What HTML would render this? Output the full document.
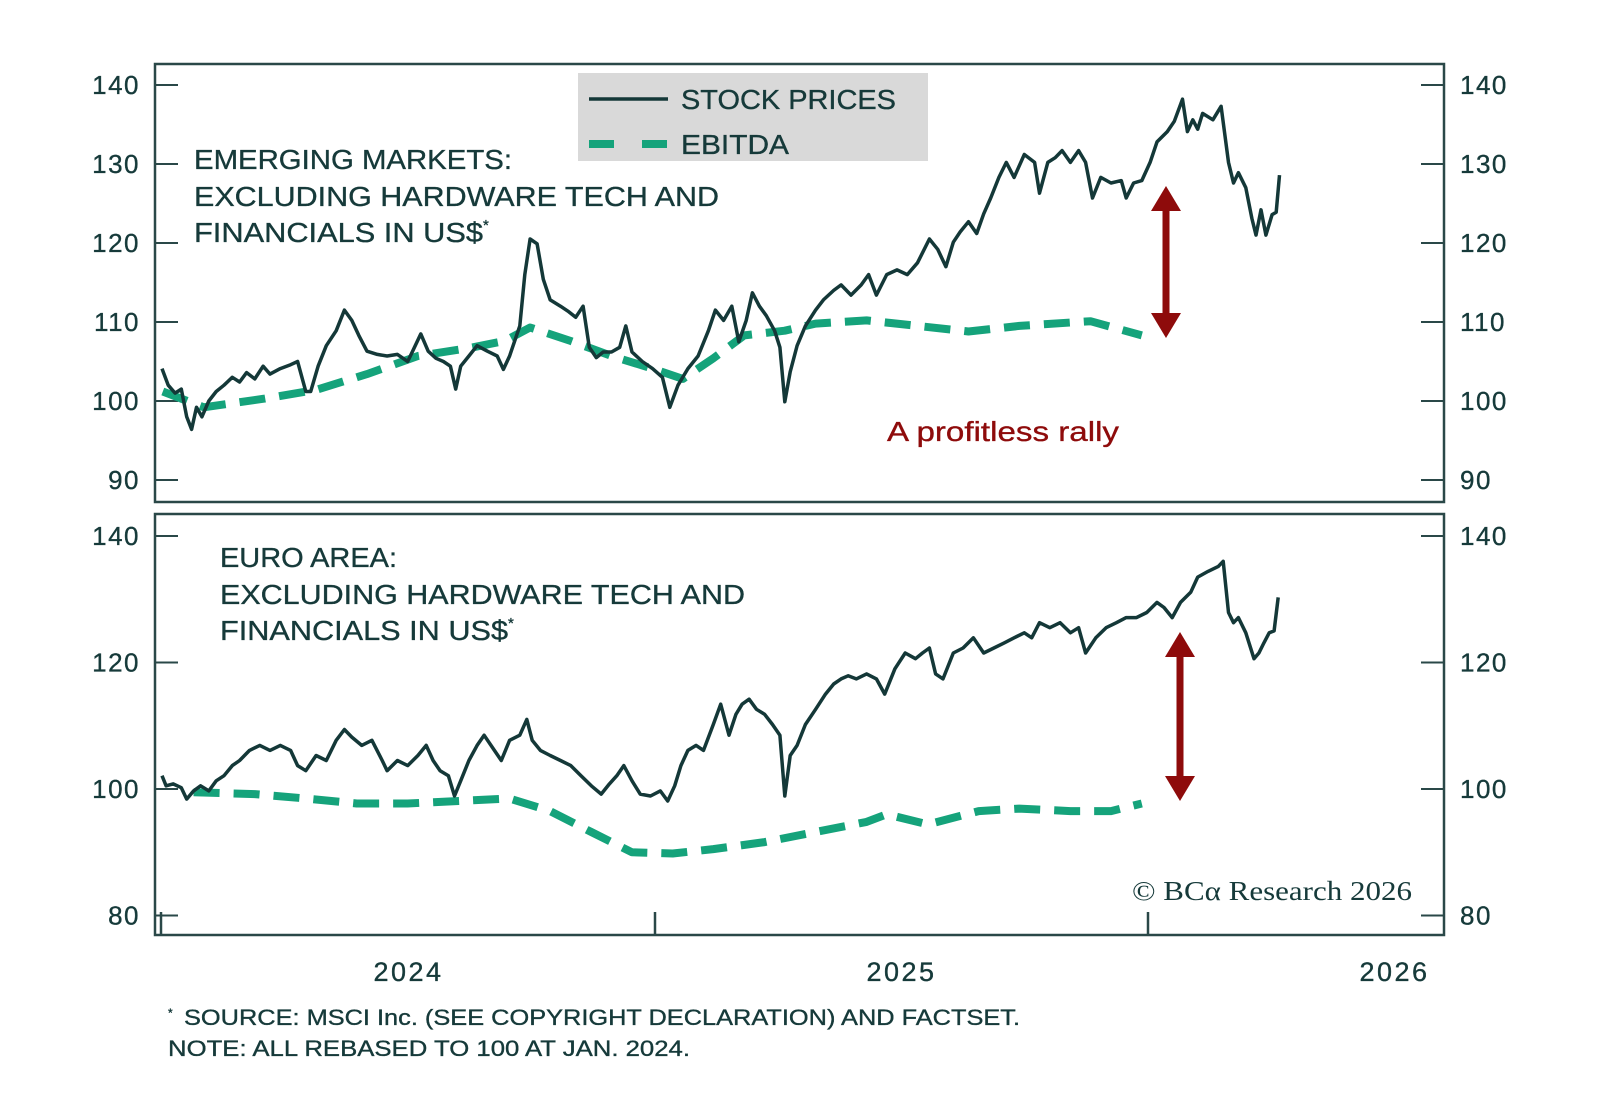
<!DOCTYPE html>
<html><head><meta charset="utf-8"><style>
html,body{margin:0;padding:0;background:#fff;}
svg{display:block;}
text{font-family:"Liberation Sans",sans-serif;fill:#163a3a;stroke:#163a3a;stroke-width:0.35;}
</style></head><body>
<svg id="chart" width="1600" height="1107" viewBox="0 0 1600 1107" xmlns="http://www.w3.org/2000/svg">
<g id="frame"></g>
<g id="marks"></g>
<g>
<rect x="578" y="73" width="350" height="88" fill="#d9d9d9"/>
<line x1="589" y1="99" x2="668" y2="99" stroke="#143838" stroke-width="3.5"/>
<line x1="589" y1="144" x2="668" y2="144" stroke="#15a37b" stroke-width="8" stroke-dasharray="25,28"/>
<text x="681" y="109" font-size="28" textLength="215" lengthAdjust="spacingAndGlyphs">STOCK PRICES</text>
<text x="681" y="154" font-size="28" textLength="108" lengthAdjust="spacingAndGlyphs">EBITDA</text>
</g>
<g font-size="28">
<text x="194" y="169" textLength="318" lengthAdjust="spacingAndGlyphs">EMERGING MARKETS:</text>
<text x="194" y="206" textLength="525" lengthAdjust="spacingAndGlyphs">EXCLUDING HARDWARE TECH  AND</text>
<text x="194" y="242"><tspan textLength="289" lengthAdjust="spacingAndGlyphs">FINANCIALS IN US$</tspan><tspan font-size="15" dy="-12">*</tspan></text>
</g>
<g font-size="28">
<text x="220" y="567" textLength="177" lengthAdjust="spacingAndGlyphs">EURO AREA:</text>
<text x="220" y="604" textLength="525" lengthAdjust="spacingAndGlyphs">EXCLUDING HARDWARE TECH  AND</text>
<text x="220" y="640"><tspan textLength="288" lengthAdjust="spacingAndGlyphs">FINANCIALS IN US$</tspan><tspan font-size="15" dy="-12">*</tspan></text>
</g>
<text x="887" y="441" font-size="28" textLength="232" lengthAdjust="spacingAndGlyphs" style="fill:#8e0b0b;stroke:#8e0b0b">A profitless rally</text>
<text x="1132" y="900" font-size="27" textLength="280" lengthAdjust="spacingAndGlyphs" style="font-family:'Liberation Serif',serif;stroke-width:0">© BCα Research 2026</text>
<g font-size="22">
<text x="168" y="1025"><tspan font-size="12" dy="-8">*</tspan><tspan dy="8" x="184" textLength="836" lengthAdjust="spacingAndGlyphs">SOURCE: MSCI Inc. (SEE COPYRIGHT DECLARATION) AND FACTSET.</tspan></text>
<text x="168" y="1056" textLength="522" lengthAdjust="spacingAndGlyphs">NOTE: ALL REBASED TO 100 AT JAN. 2024.</text>
</g>
</svg>
<script>
// months since Jan 2024
const emStockMonths=[0,0.15,0.32,0.47,0.6,0.72,0.84,0.97,1.14,1.32,1.51,1.71,1.89,2.06,2.26,2.46,2.63,2.88,3.13,3.3,3.5,3.62,3.8,4.0,4.24,4.44,4.62,4.79,4.99,5.24,5.48,5.73,5.98,6.1,6.3,6.48,6.67,6.85,7.02,7.15,7.27,7.47,7.67,7.92,8.16,8.31,8.46,8.71,8.83,8.96,9.13,9.28,9.45,9.7,9.9,10.07,10.25,10.4,10.57,10.74,10.94,11.14,11.29,11.44,11.69,11.94,12.18,12.36,12.56,12.8,13.05,13.3,13.47,13.67,13.87,14.04,14.22,14.37,14.54,14.71,14.91,15.04,15.16,15.29,15.46,15.66,15.91,16.1,16.35,16.53,16.77,17.02,17.2,17.39,17.64,17.89,18.14,18.39,18.68,18.88,19.08,19.26,19.43,19.63,19.83,20.0,20.17,20.37,20.55,20.74,20.99,21.24,21.36,21.56,21.74,21.91,22.11,22.31,22.48,22.65,22.85,23.1,23.35,23.47,23.65,23.85,24.05,24.22,24.47,24.64,24.84,24.96,25.09,25.21,25.33,25.58,25.78,25.96,26.08,26.2,26.38,26.53,26.63,26.75,26.87,27.02,27.12,27.2];
const emStockValues=[104.1,102,101,101.5,98,96.4,99.2,98,100,101.2,102,103,102.4,103.6,102.8,104.4,103.4,104.1,104.6,105,101.2,101.2,104.4,107,108.9,111.5,110.2,108.3,106.3,105.9,105.7,105.9,105,106.3,108.5,106.3,105.4,105,104.4,101.5,104.4,105.7,107,106.3,105.7,104,105.7,109.5,116,120.5,119.9,115.4,112.8,112,111.3,110.6,112,106.8,105.5,106.2,106.2,106.8,109.5,106.2,105,104.1,103,99.2,102,104.1,105.7,108.9,111.5,110.2,112,107.5,110.2,113.7,112,110.8,108.9,106.8,99.9,103.7,107,109.5,111.5,112.8,114,114.7,113.4,114.7,116,113.4,116,116.6,116,117.5,120.5,119.2,117,120.1,121.4,122.7,121.2,123.7,125.7,128.3,130.2,128.3,131.2,130.2,126.3,130.2,130.8,131.7,130.2,131.7,130.2,125.7,128.3,127.6,127.9,125.7,127.6,127.9,130.2,132.8,134.1,135.4,138.2,134.1,135.6,134.4,136.4,135.6,137.3,130.2,127.6,128.9,127,123.1,121,124.2,121,123.6,123.9,128.6];
const emEbitdaMonths=[0.02,1.02,2.5,3.75,4.99,6.23,7.47,8.34,8.96,9.95,10.94,11.94,12.68,13.42,14.17,15.16,15.91,17.15,18.39,19.63,20.87,22.6,23.85];
const emEbitdaValues=[101.2,99.2,100.3,101.4,103.4,105.7,106.7,107.6,109.3,107.6,105.7,104.1,102.8,105.4,108.3,108.9,109.8,110.2,109.5,108.8,109.5,110.1,108.3];
const euStockMonths=[0,0.1,0.27,0.47,0.6,0.77,0.94,1.14,1.32,1.51,1.71,1.89,2.13,2.38,2.63,2.88,3.13,3.3,3.5,3.75,4.0,4.24,4.44,4.62,4.86,5.11,5.36,5.48,5.73,5.98,6.23,6.43,6.6,6.77,6.97,7.12,7.27,7.47,7.67,7.84,8.09,8.26,8.46,8.71,8.88,9.01,9.21,9.45,9.7,9.95,10.2,10.45,10.69,10.89,11.07,11.24,11.44,11.64,11.89,12.13,12.31,12.48,12.63,12.8,13.0,13.18,13.42,13.6,13.8,13.97,14.12,14.29,14.47,14.67,14.86,15.04,15.16,15.29,15.46,15.66,15.91,16.15,16.35,16.53,16.7,16.9,17.15,17.39,17.59,17.84,18.09,18.34,18.51,18.68,18.83,19.01,19.26,19.5,19.75,20.0,20.25,20.5,20.74,20.99,21.17,21.36,21.61,21.86,22.11,22.31,22.48,22.73,22.98,23.23,23.47,23.72,23.97,24.22,24.39,24.59,24.79,25.04,25.21,25.46,25.71,25.83,25.96,26.08,26.2,26.38,26.58,26.7,26.82,26.95,27.07,27.17];
const euStockValues=[102.1,100.5,100.8,100.2,98.4,99.7,100.5,99.7,101.3,102.1,103.7,104.5,106.1,106.9,106.1,106.9,106.1,103.7,102.9,105.3,104.5,107.7,109.4,108.2,106.9,107.7,104.5,102.9,104.5,103.7,105.3,106.9,104.5,102.9,102.1,98.9,101.3,104.5,106.9,108.5,106.1,104.5,107.7,108.5,111,107.7,106.1,105.3,104.5,103.7,102.1,100.5,99.2,100.8,102.1,103.7,101.3,99.2,98.9,99.7,98.1,100.5,103.7,106.1,106.9,106.1,110.2,113.4,108.5,111.8,113.4,114.2,112.6,111.8,110.2,108.5,98.9,105.3,106.9,110.2,112.6,115,116.6,117.4,117.9,117.4,118.2,117.4,115,119,121.5,120.6,121.5,122.3,118.2,117.4,121.5,122.3,123.9,121.5,122.3,123.1,123.9,124.7,123.9,126.3,125.5,126.3,124.7,125.5,121.5,123.9,125.5,126.3,127.1,127.1,127.9,129.5,128.7,127.1,129.5,131.1,133.5,134.4,135.2,136,127.9,126.3,127.1,124.7,120.6,121.5,123.1,124.7,125,130.3];
const euEbitdaMonths=[0.77,2.26,3.5,4.74,5.98,7.22,8.46,9.45,10.45,11.44,12.43,13.42,14.67,15.91,17.15,17.64,18.64,19.88,20.87,22.11,23.1,23.85];
const euEbitdaValues=[99.5,99.2,98.5,97.7,97.7,98.1,98.5,96.5,93.2,90,89.8,90.5,91.6,93.2,94.8,96,94.4,96.5,96.9,96.5,96.5,97.7];
const emTicks=[140,130,120,110,100,90];
const euTicks=[140,120,100,80];
const xTickMonths=[0,12,24];
const xLabels=["2024","2025","2026"];
const xLabelMonths=[6,18,30];

const NS="http://www.w3.org/2000/svg";
const xs=m=>162+m*493/12;
const yEm=v=>401-(v-100)*7.9;
const yEu=v=>789-(v-100)*6.325;
const frame=document.getElementById('frame'), marks=document.getElementById('marks');
function mk(tag,attrs,parent){const e=document.createElementNS(NS,tag);for(const k in attrs)e.setAttribute(k,attrs[k]);parent.appendChild(e);return e;}
const AX="#2a4848";
function panel(top,bot,ticks,ys,name){
  const r=mk('rect',{x:155,y:top,width:1289,height:bot-top,fill:'none',stroke:AX,'stroke-width':2.5},frame);
  
  
  ticks.forEach(t=>{
    const y=ys(t);
    const a=mk('line',{x1:155,x2:178,y1:y,y2:y,stroke:AX,'stroke-width':2},frame);
    
    
    const b=mk('line',{x1:1421,x2:1444,y1:y,y2:y,stroke:AX,'stroke-width':2},frame);
    
    
    const l=mk('text',{x:140,y:y+9,'font-size':26,'text-anchor':'end','letter-spacing':1.5},frame);l.textContent=t;
    
    
    const rl=mk('text',{x:1460,y:y+9,'font-size':26,'letter-spacing':1.5},frame);rl.textContent=t;
    
    
  });
}
panel(64,502,emTicks,yEm,'em');
panel(514,935,euTicks,yEu,'euro');
xTickMonths.forEach(m=>{
  const t=mk('line',{x1:xs(m)-(m===0?1:0),x2:xs(m)-(m===0?1:0),y1:912,y2:935,stroke:AX,'stroke-width':2.5},frame);
  
  
});
xLabels.forEach((s,i)=>{
  const t=mk('text',{x:xs(xLabelMonths[i]),y:981,'font-size':27,'text-anchor':'middle','letter-spacing':2.5},frame);t.textContent=s;
  
  
});
function line(ms,vs,ys,name,dashed){
  const d=ms.map((m,i)=>(i?'L':'M')+xs(m).toFixed(1)+','+ys(vs[i]).toFixed(1)).join(' ');
  const p=mk('path',{d:d,fill:'none',stroke:dashed?'#15a37b':'#143838','stroke-width':dashed?8:3.5,'stroke-linejoin':'round','stroke-dasharray':dashed?'26,14':'none'},marks);
  
  
}
line(emEbitdaMonths,emEbitdaValues,yEm,'em-ebitda-line',true);
line(emStockMonths,emStockValues,yEm,'em-stock-line',false);
line(euEbitdaMonths,euEbitdaValues,yEu,'euro-ebitda-line',true);
line(euStockMonths,euStockValues,yEu,'euro-stock-line',false);
function arrow(x,y1,y2,name){
  const g=mk('g',{fill:'#8e0b0b'},marks);
  
  
  mk('rect',{x:x-3.5,y:y1+20,width:7,height:y2-y1-40},g);
  mk('polygon',{points:`${x},${y1} ${x-15},${y1+25} ${x+15},${y1+25}`},g);
  mk('polygon',{points:`${x},${y2} ${x-15},${y2-25} ${x+15},${y2-25}`},g);
}
arrow(1166,186,338,'em-gap-arrow');
arrow(1180,632,801,'euro-gap-arrow');
</script>
</body></html>
